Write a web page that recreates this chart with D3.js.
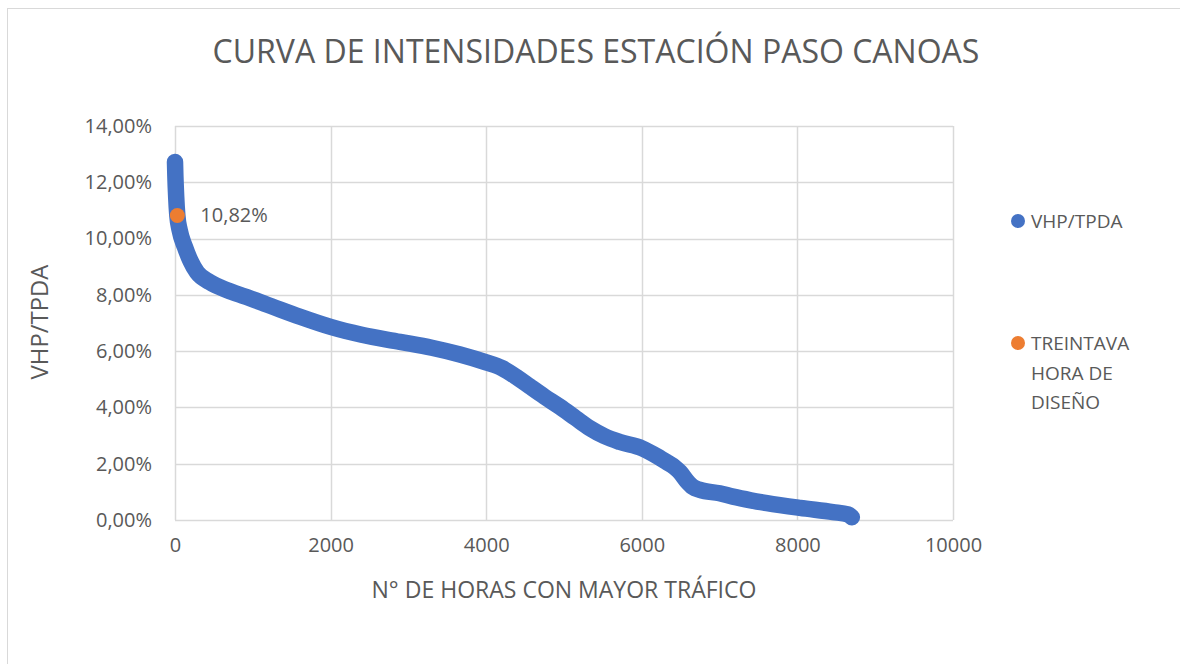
<!DOCTYPE html>
<html>
<head>
<meta charset="utf-8">
<script src="https://cdn.jsdelivr.net/npm/d3@7"></script>
<style>
  html, body { margin: 0; padding: 0; background: #fff; }
  svg { display: block; font-family: "Open Sans", "Noto Sans", sans-serif; }
</style>
</head>
<body>
<div id="chart"></div>
<script>
// hours sorted by traffic (x) and VHP/TPDA in % (y)
const hours = [0, 5, 15, 30, 60, 128, 200, 283, 450, 668, 900, 1093, 1350, 1607, 2000, 2400, 2892, 3300, 3663, 4000,
  4200, 4400, 4563, 4750, 4949, 5150, 5334, 5520, 5720, 6000, 6200, 6324, 6420, 6491, 6581, 6658, 6748, 7000,
  7172, 7400, 7609, 8033, 8458, 8650, 8700];
const vhpTpda = [12.72, 12.2, 11.5, 10.82, 10.3, 9.7, 9.2, 8.8, 8.45, 8.17, 7.94, 7.75, 7.48, 7.22, 6.86, 6.58, 6.33, 6.12, 5.88, 5.6,
  5.4, 5.06, 4.74, 4.38, 4.02, 3.62, 3.26, 2.98, 2.77, 2.55, 2.26, 2.05, 1.88, 1.7, 1.38, 1.17, 1.07, 0.95,
  0.83, 0.7, 0.6, 0.43, 0.28, 0.2, 0.1];
const designHour = [30];
const designValue = [10.82];
const designLabel = ["10,82%"];

const xTicks = [0, 2000, 4000, 6000, 8000, 10000];
const yTicks = [0, 2, 4, 6, 8, 10, 12, 14];
const seriesNames = ["VHP/TPDA", "TREINTAVA HORA DE DISEÑO"];

const title = "CURVA DE INTENSIDADES ESTACIÓN PASO CANOAS";
const xTitle = "N° DE HORAS CON MAYOR TRÁFICO";
const yTitle = "VHP/TPDA";

const width = 1180, height = 664;
const margin = { top: 126, right: 227, bottom: 144, left: 175 };
const blue = "#4472C4", orange = "#ED7D31", textColor = "#595959", gridColor = "#D9D9D9";

const svg = d3.select("#chart").append("svg")
  .attr("width", width)
  .attr("height", height);

// chart frame
svg.append("rect")
  .attr("x", 7.5).attr("y", 8.5)
  .attr("width", width + 20).attr("height", height + 20)
  .attr("fill", "#fff")
  .attr("stroke", gridColor);

const x = d3.scaleLinear().domain([0, 10000]).range([margin.left, width - margin.right]);
const y = d3.scaleLinear().domain([0, 14]).range([height - margin.bottom, margin.top]);

const fmtPct = v => d3.format(".2f")(v).replace(".", ",") + "%";

// grid
svg.append("g").selectAll("line").data(yTicks).join("line")
  .attr("x1", x(0)).attr("x2", x(10000))
  .attr("y1", d => Math.round(y(d)) + 0.5).attr("y2", d => Math.round(y(d)) + 0.5)
  .attr("stroke", gridColor).attr("stroke-width", 1.5);
svg.append("g").selectAll("line").data(xTicks).join("line")
  .attr("x1", d => Math.round(x(d)) + 0.5).attr("x2", d => Math.round(x(d)) + 0.5)
  .attr("y1", y(14)).attr("y2", y(0))
  .attr("stroke", gridColor).attr("stroke-width", 1.5);

// axes labels
const yAxis = d3.axisLeft(y).tickValues(yTicks).tickFormat(fmtPct).tickSize(0).tickPadding(23);
svg.append("g").attr("transform", `translate(${x(0)},0)`).call(yAxis)
  .call(g => g.select(".domain").remove())
  .selectAll("text").attr("fill", textColor).attr("font-size", 20)
  .attr("font-family", "Open Sans");

const xAxis = d3.axisBottom(x).tickValues(xTicks).tickFormat(d3.format("d")).tickSize(0).tickPadding(18);
svg.append("g").attr("transform", `translate(0,${y(0)})`).call(xAxis)
  .call(g => g.select(".domain").remove())
  .selectAll("text").attr("fill", textColor).attr("font-size", 20)
  .attr("font-family", "Open Sans");

// main series: dense markers drawn as thick rounded stroke
const pts = hours.map((h, i) => [h, vhpTpda[i]]);
const line = d3.line().x(d => x(d[0])).y(d => y(d[1])).curve(d3.curveMonotoneX);
svg.append("path")
  .datum(pts)
  .attr("fill", "none")
  .attr("stroke", blue)
  .attr("stroke-width", 16.5)
  .attr("stroke-linecap", "round")
  .attr("stroke-linejoin", "round")
  .attr("d", line);

// design hour point
svg.append("g").selectAll("circle").data(designHour).join("circle")
  .attr("cx", d => x(d)).attr("cy", (d, i) => y(designValue[i]))
  .attr("r", 7.5).attr("fill", orange);
svg.append("g").selectAll("text").data(designHour).join("text")
  .attr("x", d => x(d) + 23).attr("y", (d, i) => y(designValue[i]) + 7)
  .attr("fill", textColor).attr("font-size", 20)
  .text((d, i) => designLabel[i]);

// fit text to a target width
function fit(sel, target) {
  const len = sel.node().getComputedTextLength();
  const fs = parseFloat(sel.attr("font-size"));
  sel.attr("font-size", fs * target / len);
}

const t = svg.append("text")
  .attr("x", 596).attr("y", 63)
  .attr("text-anchor", "middle")
  .attr("fill", textColor).attr("font-size", 30)
  .text(title);
fit(t, 767);

const xt = svg.append("text")
  .attr("x", 564).attr("y", 598)
  .attr("text-anchor", "middle")
  .attr("fill", textColor).attr("font-size", 22)
  .text(xTitle);
fit(xt, 385);

const yt = svg.append("text")
  .attr("transform", "translate(48,322) rotate(-90)")
  .attr("text-anchor", "middle")
  .attr("fill", textColor).attr("font-size", 22)
  .text(yTitle);
fit(yt, 115);

// legend
const legend = svg.append("g");
const legendRows = [
  { name: seriesNames[0], color: blue, y: 221, lines: [seriesNames[0]] },
  { name: seriesNames[1], color: orange, y: 343, lines: ["TREINTAVA", "HORA DE", "DISEÑO"] }
];
legendRows.forEach(r => {
  legend.append("circle").attr("cx", 1018).attr("cy", r.y).attr("r", 7).attr("fill", r.color);
  const txt = legend.append("text")
    .attr("x", 1031).attr("y", r.y + 7)
    .attr("fill", textColor).attr("font-size", 19);
  r.lines.forEach((l, i) => {
    txt.append("tspan").attr("x", 1031).attr("dy", i === 0 ? 0 : 29.5).text(l);
  });
});
</script>
</body>
</html>
